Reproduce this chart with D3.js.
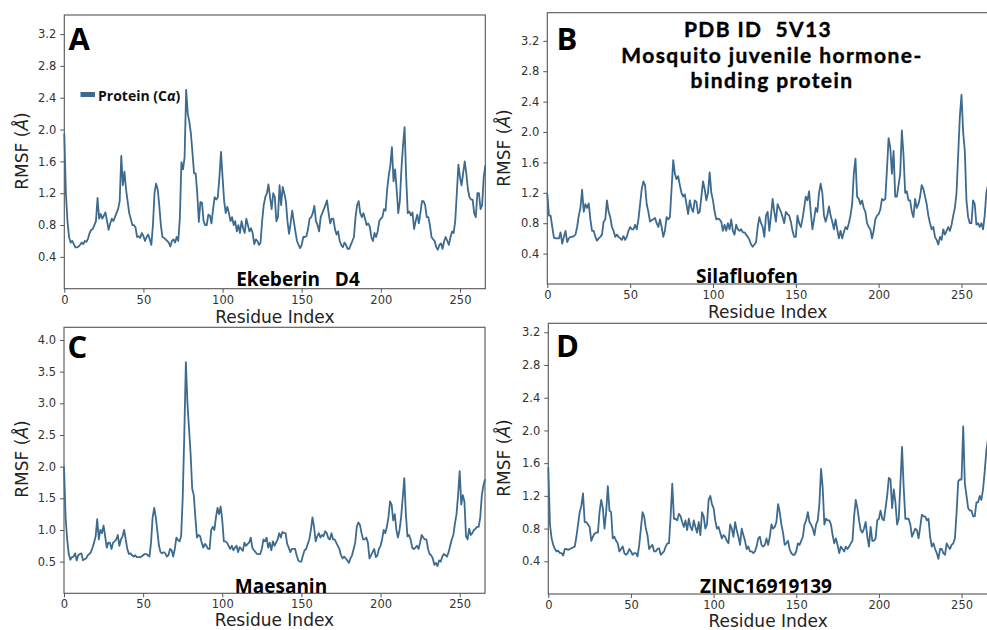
<!DOCTYPE html>
<html>
<head>
<meta charset="utf-8">
<script src="https://cdn.jsdelivr.net/npm/d3@7"></script>
<style>
  body { margin: 0; background: #fff; }
  text { font-family: "DejaVu Sans", sans-serif; }
  .bold { font-family: "Open Sans", sans-serif; font-weight: 700; }
  .title { font-family: Lato, sans-serif; font-weight: 700; }
</style>
</head>
<body>
<div id="chart"></div>
<script>
// RMSF per residue (index = residue number)
var rmsfA = [
  1.95,1.2,0.85,0.65,0.58,0.6,0.56,0.52,0.52,0.53,
  0.55,0.58,0.56,0.6,0.59,0.63,0.7,0.74,0.75,0.8,
  0.85,1.14,0.88,0.94,0.88,0.92,0.96,0.85,0.74,0.82,
  0.88,0.85,0.9,0.95,1.0,1.1,1.67,1.3,1.47,1.25,
  1.1,0.95,0.88,0.8,0.8,0.77,0.65,0.66,0.64,0.7,
  0.66,0.6,0.65,0.68,0.62,0.55,0.8,1.2,1.32,1.25,
  1.05,0.8,0.65,0.64,0.62,0.6,0.58,0.53,0.6,0.62,
  0.58,0.65,0.6,0.88,1.59,1.5,1.65,2.5,2.2,2.1,
  1.95,1.7,1.45,1.45,1.2,0.84,1.09,1.08,0.85,0.8,
  0.8,0.93,0.92,0.82,1.0,1.15,1.12,1.15,1.4,1.72,
  1.4,1.1,0.95,1.03,0.95,0.85,0.9,0.8,0.85,0.72,
  0.8,0.7,0.85,0.76,0.7,0.88,0.8,0.72,0.76,0.7,
  0.56,0.62,0.6,0.55,0.58,0.85,1.05,1.15,1.2,1.31,
  1.15,1.0,1.2,1.15,0.85,0.9,1.3,1.05,1.28,1.2,
  1.1,0.85,0.69,0.82,0.98,0.85,0.72,0.6,0.55,0.51,
  0.55,0.65,0.65,0.66,0.75,0.88,0.9,0.95,1.04,0.85,
  0.8,0.72,0.9,0.95,1.0,1.05,1.11,0.95,0.82,0.88,
  0.88,0.75,0.68,0.72,0.6,0.55,0.52,0.58,0.55,0.5,
  0.5,0.55,0.6,0.65,0.9,1.05,1.1,0.95,0.9,0.95,
  0.88,0.8,0.82,0.78,0.65,0.6,0.7,0.65,0.72,0.85,
  0.88,0.9,1.0,0.98,1.25,1.42,1.55,1.78,1.35,1.5,
  1.25,0.95,1.1,1.5,1.8,2.03,1.4,0.95,0.97,0.92,
  0.96,0.75,0.85,0.93,0.82,0.95,1.1,1.1,1.05,0.9,
  0.9,0.8,0.65,0.62,0.6,0.52,0.49,0.55,0.57,0.5,
  0.6,0.65,0.6,0.55,0.65,0.72,0.7,0.85,1.2,1.56,
  1.4,1.3,1.45,1.6,1.45,1.25,1.15,1.12,1.12,0.95,
  0.9,1.2,1.2,1.0,1.05,1.4,1.55
];
var rmsfB = [
  1.19,0.9,0.9,0.75,0.61,0.6,0.6,0.6,0.68,0.53,
  0.62,0.7,0.55,0.6,0.62,0.62,0.63,0.65,0.75,0.9,
  1.0,1.24,0.95,1.05,1.0,1.06,0.85,0.7,0.7,0.62,
  0.57,0.6,0.62,0.65,0.82,0.85,1.1,0.95,0.88,0.75,
  0.7,0.62,0.65,0.62,0.6,0.58,0.63,0.58,0.62,0.7,
  0.75,0.72,0.72,0.78,0.72,0.85,1.05,1.25,1.35,1.3,
  1.05,0.95,0.82,0.84,0.85,0.87,0.8,0.75,0.85,0.75,
  0.62,0.7,0.88,0.85,0.88,1.25,1.63,1.45,1.38,1.42,
  1.3,1.2,1.15,1.18,1.05,0.92,1.1,1.0,0.95,1.1,
  1.08,0.93,0.95,1.15,1.35,1.25,1.1,1.2,1.47,1.2,
  1.1,0.95,0.85,0.86,0.85,0.82,0.7,0.78,0.7,0.8,
  0.72,0.85,0.7,0.65,0.78,0.72,0.7,0.72,0.68,0.68,
  0.65,0.62,0.58,0.52,0.49,0.52,0.55,0.75,0.88,0.8,
  0.75,0.62,0.9,0.95,0.7,0.9,1.12,0.95,0.82,1.05,
  1.0,0.95,0.88,0.8,0.95,0.92,0.9,0.82,0.7,0.62,
  0.62,0.9,0.8,0.75,0.85,1.0,1.15,1.1,1.22,0.95,
  0.72,0.85,1.0,0.95,1.2,1.32,1.2,0.9,0.82,0.9,
  1.02,0.9,0.82,0.72,0.85,0.72,0.6,0.7,0.6,0.68,
  0.75,0.72,0.8,0.9,1.05,1.45,1.65,1.15,1.12,1.05,
  1.1,1.0,0.95,0.8,0.75,0.72,0.6,0.7,0.85,0.9,
  0.92,0.98,1.12,1.1,1.12,1.5,1.92,1.8,1.45,1.75,
  1.15,1.15,1.3,1.45,2.02,1.7,1.2,1.22,1.1,1.1,
  0.95,0.88,1.12,1.0,1.05,1.15,1.3,1.25,1.15,1.05,
  0.9,0.8,0.72,0.75,0.62,0.58,0.52,0.62,0.58,0.72,
  0.65,0.7,0.75,0.7,0.78,0.9,1.0,1.2,1.7,2.2,
  2.49,2.0,1.75,1.1,0.88,0.8,0.8,1.1,1.05,0.78,
  0.8,0.75,0.8,0.72,0.9,1.2,1.3
];
var rmsfC = [
  2.0,1.2,0.85,0.62,0.53,0.57,0.58,0.63,0.52,0.6,
  0.62,0.63,0.52,0.54,0.55,0.6,0.62,0.65,0.72,0.8,
  0.9,1.17,0.85,1.0,0.95,1.07,0.9,0.72,0.8,0.8,
  0.7,0.8,0.82,0.85,0.92,0.75,0.85,0.9,1.0,0.85,
  0.7,0.62,0.63,0.6,0.58,0.6,0.57,0.57,0.57,0.58,
  0.6,0.62,0.62,0.6,0.58,0.8,1.2,1.35,1.2,0.98,
  0.75,0.65,0.63,0.65,0.63,0.58,0.6,0.7,0.68,0.58,
  0.7,0.88,0.84,0.82,0.9,1.5,2.5,3.65,3.0,2.6,
  2.2,1.65,1.55,1.2,0.88,0.92,0.9,0.8,0.72,0.78,
  0.75,0.7,0.7,1.0,1.05,1.0,1.2,1.35,1.25,1.37,
  1.15,0.82,0.82,0.8,0.75,0.7,0.75,0.68,0.72,0.75,
  0.65,0.73,0.7,0.67,0.8,0.75,0.78,0.8,0.88,0.72,
  0.68,0.65,0.62,0.62,0.62,0.7,0.85,0.82,0.88,0.72,
  0.8,0.68,0.82,0.75,0.8,0.85,0.95,0.88,0.97,0.95,
  0.95,0.78,0.72,0.65,0.7,0.7,0.7,0.6,0.52,0.5,
  0.5,0.6,0.68,0.7,0.78,0.85,1.0,1.2,1.05,0.82,
  0.9,0.95,0.88,0.92,0.9,0.98,0.95,0.87,0.85,0.95,
  0.85,0.85,0.8,0.75,0.7,0.6,0.55,0.58,0.55,0.52,
  0.48,0.55,0.6,0.7,0.8,1.05,1.12,1.08,0.95,0.85,
  0.85,0.88,0.8,0.55,0.6,0.65,0.7,0.57,0.6,0.7,
  0.75,0.85,1.0,0.95,1.05,1.2,1.45,1.4,1.15,1.25,
  1.0,0.88,1.0,1.2,1.5,1.82,1.25,0.9,0.92,0.85,
  0.72,0.7,0.72,0.75,0.7,0.8,0.92,0.88,0.85,0.85,
  0.7,0.62,0.6,0.55,0.45,0.48,0.43,0.52,0.5,0.58,
  0.62,0.6,0.58,0.65,0.75,0.85,0.92,1.1,1.25,1.55,
  1.93,1.4,1.55,1.45,0.9,0.85,1.02,0.92,0.95,1.0,
  1.02,1.05,1.05,1.2,1.55,1.7,1.8
];
var rmsfD = [
  1.55,0.85,0.68,0.6,0.55,0.52,0.53,0.5,0.5,0.47,
  0.55,0.55,0.54,0.55,0.56,0.57,0.58,0.7,0.85,1.0,
  1.08,1.23,0.88,0.88,0.85,0.82,0.65,0.7,0.74,0.75,
  0.75,1.0,1.15,1.05,0.8,1.0,1.32,1.02,1.0,0.68,
  0.7,0.65,0.62,0.52,0.55,0.58,0.5,0.48,0.5,0.55,
  0.52,0.48,0.5,0.5,0.46,0.6,0.8,1.0,0.95,0.8,
  0.72,0.55,0.58,0.6,0.52,0.52,0.55,0.56,0.48,0.5,
  0.52,0.58,0.62,0.62,0.95,1.35,0.92,0.92,0.9,0.98,
  0.95,0.88,0.82,0.9,0.78,0.92,0.82,0.78,0.9,0.82,
  0.75,0.88,0.72,1.0,0.95,0.8,0.85,1.15,1.2,1.1,
  1.05,0.9,0.8,0.82,0.75,0.68,0.72,0.7,0.65,0.62,
  0.85,0.8,0.7,0.88,0.78,0.7,0.6,0.8,0.72,0.65,
  0.55,0.58,0.52,0.52,0.5,0.52,0.58,0.68,0.7,0.6,
  0.58,0.6,0.68,0.6,0.7,0.85,0.8,0.82,0.88,1.1,
  1.0,0.85,0.75,0.6,0.62,0.65,0.55,0.5,0.48,0.48,
  0.52,0.62,0.6,0.65,0.7,0.85,0.9,1.0,0.88,0.85,
  0.8,0.72,0.85,0.9,1.1,1.53,1.3,0.85,0.92,0.9,
  0.9,0.85,0.72,0.62,0.68,0.6,0.5,0.58,0.55,0.52,
  0.58,0.55,0.58,0.62,0.65,0.95,1.15,1.05,0.9,0.78,
  0.75,0.8,0.88,0.7,0.58,0.82,0.65,0.65,0.68,0.9,
  0.92,1.02,0.92,0.9,1.05,1.2,1.42,1.4,1.05,1.28,
  1.12,0.85,0.92,1.35,1.8,1.3,0.92,0.92,0.92,0.85,
  0.7,0.75,0.8,0.78,0.68,0.82,0.97,0.95,0.95,0.9,
  0.92,0.7,0.58,0.62,0.55,0.5,0.43,0.55,0.55,0.5,
  0.48,0.62,0.58,0.55,0.6,0.62,0.68,1.0,1.38,1.4,
  1.4,2.05,1.35,1.2,1.05,1.02,1.02,0.95,0.95,1.12,
  1.12,1.2,1.15,1.28,1.5,1.75,1.9
];

var xTicks = [0, 50, 100, 150, 200, 250];
var yTicks = [0.4, 0.8, 1.2, 1.6, 2.0, 2.4, 2.8, 3.2];
var yTicksC = [0.5, 1.0, 1.5, 2.0, 2.5, 3.0, 3.5, 4.0];
var panelLetters = ["A", "B", "C", "D"];
var ligandNames = ["Ekeberin   D4", "Silafluofen", "Maesanin", "ZINC16919139"];
var titleLines = ["PDB ID  5V13", "Mosquito juvenile hormone-", "binding protein"];
var legendLabel = "Protein (C";

var lineColor = "#3d6a8f";

var svg = d3.select("#chart").append("svg")
    .attr("width", 987)
    .attr("height", 630);

// layout of the four panels (pixel boxes + axis extents)
var panels = [
  {values: rmsfA, ticks: yTicks, yMax: 3.44, left: 64.3, top: 15, right: 485.3, bottom: 288.7,
   ylab: [22, 151], letter: [68.5, 50], name: [298, 285.5], xlab: 323},
  {values: rmsfB, ticks: yTicks, yMax: 3.57, left: 547.3, top: 12.7, right: 988, bottom: 284,
   ylab: [504, 148], letter: [556.5, 50], name: [747, 283], xlab: 318},
  {values: rmsfC, ticks: yTicksC, yMax: 4.2, left: 64, top: 327.3, right: 485, bottom: 593.3,
   ylab: [22, 459], letter: [67.5, 358], name: [281, 592.5], xlab: 626},
  {values: rmsfD, ticks: yTicks, yMax: 3.31, left: 548.3, top: 323.3, right: 988, bottom: 594,
   ylab: [504, 458], letter: [556, 356.5], name: [766, 592.5], xlab: 626.5}
];

panels.forEach(function(p, k) {
  var x = d3.scaleLinear().domain([0, 266]).range([p.left, p.right]);
  var y = d3.scaleLinear().domain([0, p.yMax]).range([p.bottom, p.top]);

  var g = svg.append("g");

  // frame
  g.append("rect")
    .attr("x", p.left).attr("y", p.top)
    .attr("width", p.right - p.left).attr("height", p.bottom - p.top)
    .attr("fill", "none").attr("stroke", "#555").attr("stroke-width", 1.1);

  var xAxis = g.append("g")
    .attr("transform", "translate(0," + p.bottom + ")")
    .call(d3.axisBottom(x).tickValues(xTicks).tickSize(4).tickPadding(3));
  var yAxis = g.append("g")
    .attr("transform", "translate(" + p.left + ",0)")
    .call(d3.axisLeft(y).tickValues(p.ticks).tickFormat(d3.format(".1f")).tickSize(4).tickPadding(4));
  [xAxis, yAxis].forEach(function(a) {
    a.select(".domain").remove();
    a.selectAll(".tick line").attr("stroke", "#555");
    a.selectAll("text").attr("fill", "#333")
      .style("font-family", "DejaVu Sans").style("font-size", "11.5px");
  });

  // RMSF trace
  var line = d3.line()
    .x(function(d, i) { return x(i); })
    .y(function(d) { return y(d); });
  g.append("path")
    .datum(p.values)
    .attr("d", line)
    .attr("fill", "none")
    .attr("stroke", lineColor)
    .attr("stroke-width", 1.8)
    .attr("stroke-linejoin", "round");

  // axis labels
  g.append("text")
    .attr("x", (p.left + p.right) / 2).attr("y", p.xlab)
    .attr("text-anchor", "middle")
    .attr("fill", "#222")
    .style("font-size", "17px")
    .text("Residue Index");

  var yl = g.append("text")
    .attr("transform", "translate(" + p.ylab[0] + "," + p.ylab[1] + ") rotate(-90)")
    .attr("text-anchor", "middle")
    .attr("dominant-baseline", "central")
    .attr("fill", "#222")
    .style("font-size", "17px");
  yl.append("tspan").text("RMSF (");
  yl.append("tspan").style("font-style", "italic").text("Å");
  yl.append("tspan").text(")");

  // panel letter
  g.append("text")
    .attr("class", "bold")
    .attr("x", p.letter[0]).attr("y", p.letter[1])
    .attr("fill", "#000")
    .style("font-size", "31px")
    .text(panelLetters[k]);

  // ligand name
  g.append("text")
    .attr("class", "bold")
    .attr("x", p.name[0]).attr("y", p.name[1])
    .attr("text-anchor", "middle")
    .attr("fill", "#000")
    .style("font-size", "19px")
    .style("white-space", "pre")
    .text(ligandNames[k]);
});

// legend in panel A
svg.append("rect")
  .attr("x", 80.5).attr("y", 92).attr("width", 14.5).attr("height", 5)
  .attr("fill", lineColor);
var lg = svg.append("text")
  .attr("class", "bold")
  .attr("x", 98).attr("y", 100.5)
  .attr("fill", "#111")
  .style("font-size", "14px");
lg.append("tspan").text(legendLabel);
lg.append("tspan").style("font-style", "italic").text("α");
lg.append("tspan").text(")");

// title over panel B
svg.selectAll(".title")
  .data(titleLines)
  .enter()
  .append("text")
    .attr("class", "title")
    .attr("x", function(d, i) { return i == 0 ? 758 : 772; })
    .attr("y", function(d, i) { return [37, 62.5, 88][i]; })
    .attr("text-anchor", "middle")
    .attr("fill", "#000")
    .attr("stroke", "#000")
    .attr("stroke-width", 0.4)
    .style("font-size", "21px")
    .style("letter-spacing", "1.4px")
    .style("white-space", "pre")
    .text(function(d) { return d; });
</script>
</body>
</html>
